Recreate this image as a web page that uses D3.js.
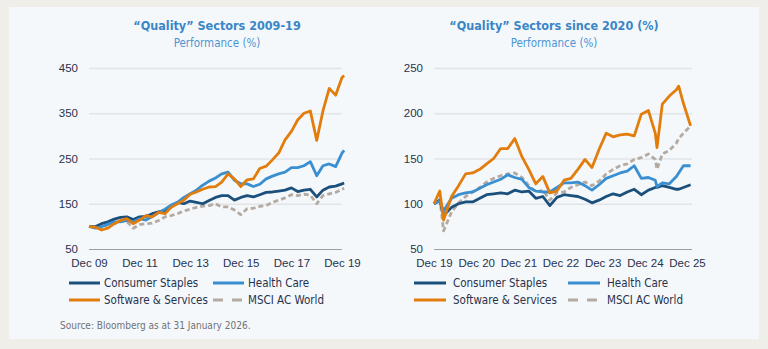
<!DOCTYPE html>
<html>

<head>
    <title>Quality Sectors</title>
    <script src="https://d3js.org/d3.v7.min.js"></script>
    <style>
        body {
            margin: 0;
            background: #efeee9;
        }

        svg {
            display: block;
            font-family: "DejaVu Sans Condensed", "DejaVu Sans", sans-serif;
            font-stretch: condensed;
        }

        .grid line {
            stroke: #e1e4e8;
            stroke-width: 1.5px;
        }

        .tick text {
            fill: #27324d;
            font-size: 11.5px;
        }

        .series {
            fill: none;
            stroke-width: 2.8px;
            stroke-linejoin: round;
        }
    </style>
</head>

<body>
    <div id="chart"></div>
    <script>
        // left panel: 2009-19, quarterly readings
        const leftDates = [
            "2009-12-31", "2010-03-31", "2010-06-30", "2010-09-30", "2010-12-31",
            "2011-03-31", "2011-06-30", "2011-09-30", "2011-12-31",
            "2012-03-31", "2012-06-30", "2012-09-30", "2012-12-31",
            "2013-03-31", "2013-06-30", "2013-09-30", "2013-12-31",
            "2014-03-31", "2014-06-30", "2014-09-30", "2014-12-31",
            "2015-03-31", "2015-06-30", "2015-09-30", "2015-12-31",
            "2016-03-31", "2016-06-30", "2016-09-30", "2016-12-31",
            "2017-03-31", "2017-06-30", "2017-09-30", "2017-12-31",
            "2018-03-31", "2018-06-30", "2018-09-30", "2018-12-31",
            "2019-03-31", "2019-06-30", "2019-09-30", "2019-12-31", "2020-01-31"
        ];
        const leftStaples = [100, 99, 106, 110, 116, 120, 121, 115, 121, 122, 128, 132, 135, 143, 153, 150, 156, 153, 150, 157, 164,
            168, 168, 158, 164, 168, 165, 170, 175, 176, 178, 180, 185, 177, 180, 182, 165, 180, 187, 189, 194, 196];
        const leftHealth = [100, 96, 99, 105, 110, 110, 113, 110, 117, 114, 122, 130, 138, 147, 153, 164, 172, 180, 191, 200, 207,
            216, 220, 202, 194, 194, 188, 193, 205, 211, 216, 220, 230, 230, 234, 243, 212, 234, 238, 232, 262, 268];
        const leftSoftware = [100, 98, 92, 96, 106, 113, 117, 106, 114, 124, 121, 131, 128, 142, 150, 158, 171, 176, 182, 187, 188,
            198, 216, 205, 188, 203, 205, 228, 233, 247, 262, 291, 310, 335, 350, 355, 290, 355, 405, 390, 429, 433];
        const leftMsci = [100, 99, 96, 104, 106, 112, 111, 96, 104, 106, 107, 113, 121, 124, 128, 134, 138, 142, 145, 146, 150,
            143, 143, 136, 126, 139, 140, 144, 146, 153, 158, 163, 170, 168, 171, 169, 150, 168, 172, 175, 182, 184];
        const leftYTicks = [50, 150, 250, 350, 450];
        const leftXTicks = ["2009-12-31", "2011-12-31", "2013-12-31", "2015-12-31", "2017-12-31", "2019-12-31"];

        // right panel: since 2020, roughly bimonthly readings
        const rightDates = [
            "2019-12-31", "2020-02-19", "2020-03-23", "2020-05-31", "2020-07-31", "2020-09-30", "2020-11-30",
            "2021-01-31", "2021-03-31", "2021-05-31", "2021-07-31", "2021-09-30", "2021-11-30",
            "2022-01-31", "2022-03-31", "2022-05-31", "2022-07-31", "2022-09-30", "2022-11-30",
            "2023-01-31", "2023-03-31", "2023-05-31", "2023-07-31", "2023-09-30", "2023-11-30",
            "2024-01-31", "2024-03-31", "2024-05-31", "2024-07-31", "2024-09-30", "2024-11-30",
            "2025-01-31", "2025-03-31", "2025-04-15", "2025-05-31", "2025-07-31", "2025-09-30", "2025-10-20",
            "2025-11-30", "2026-01-31"
        ];
        const rightStaples = [100, 104, 87, 96, 100, 102, 102, 106, 110, 111, 112, 111, 115, 113, 114, 106, 108, 98, 107,
            110, 109, 108, 105, 101, 104, 108, 111, 109, 113, 116, 110, 115, 118, 118, 120, 118, 116, 116, 118, 121];
        const rightHealth = [100, 103, 92, 106, 110, 112, 113, 117, 121, 124, 127, 132, 129, 127, 118, 114, 113, 113, 118,
            123, 123, 124, 120, 115, 121, 128, 131, 134, 136, 142, 128, 129, 126, 119, 123, 122, 130, 134, 142, 142];
        const rightSoftware = [100, 114, 82, 108, 120, 133, 134, 138, 144, 150, 161, 161, 172, 152, 138, 122, 130, 112, 114,
            126, 128, 138, 149, 140, 160, 178, 174, 176, 177, 175, 199, 203, 178, 162, 210, 219, 226, 230, 211, 186];
        const rightMsci = [100, 106, 70, 91, 101, 108, 113, 118, 124, 128, 131, 133, 134, 129, 120, 113, 115, 104, 112,
            113, 118, 121, 124, 120, 125, 133, 138, 142, 144, 149, 151, 155, 149, 138, 155, 159, 167, 172, 178, 186];
        const rightYTicks = [50, 100, 150, 200, 250];
        const rightXTicks = ["2019-12-31", "2020-12-31", "2021-12-31", "2022-12-31", "2023-12-31", "2024-12-31", "2025-12-31"];

        const seriesNames = ["Consumer Staples", "Health Care", "Software & Services", "MSCI AC World"];
        const seriesColors = ["#1b4f7c", "#3a8fd1", "#e27d0c", "#b3aaa1"];

        const parseDate = d3.timeParse("%Y-%m-%d");

        const svg = d3.select("#chart")
            .append("svg")
            .attr("width", 768)
            .attr("height", 349);

        svg.append("rect")
            .attr("width", 768).attr("height", 349)
            .attr("fill", "#efeee9");
        svg.append("rect")
            .attr("x", 9).attr("y", 7)
            .attr("width", 750).attr("height", 332)
            .attr("fill", "#f5f8fb");

        function drawPanel(p) {
            const dates = p.dates.map(parseDate);
            const x = d3.scaleTime()
                .domain([parseDate(p.xTicks[0]), parseDate(p.xTicks[p.xTicks.length - 1])])
                .range([p.left, p.right]);
            const y = d3.scaleLinear()
                .domain([p.yTicks[0], p.yTicks[p.yTicks.length - 1]])
                .range([249, 68]);

            const g = svg.append("g");

            // titles
            g.append("text")
                .attr("x", p.titleX).attr("y", 30)
                .attr("text-anchor", "middle")
                .attr("fill", "#3a86c6")
                .style("font-size", "12.5px")
                .style("font-weight", "bold")
                .text(p.title);
            g.append("text")
                .attr("x", p.titleX).attr("y", 47)
                .attr("text-anchor", "middle")
                .attr("fill", "#4d95d3")
                .style("font-size", "11.5px")
                .text("Performance (%)");

            // y grid + labels
            const yAxis = g.append("g")
                .attr("class", "grid")
                .attr("transform", `translate(${p.left},0)`)
                .call(d3.axisLeft(y).tickValues(p.yTicks)
                    .tickSize(-(p.gridRight - p.left)).tickPadding(11));
            yAxis.select(".domain").remove();
            yAxis.selectAll(".tick line")
                .filter(d => d === p.yTicks[0])
                .style("stroke", "#9b9ea3")
                .style("stroke-width", "1px");

            // x labels
            const xAxis = g.append("g")
                .attr("transform", "translate(0,253)")
                .call(d3.axisBottom(x).tickValues(p.xTicks.map(parseDate))
                    .tickSize(0).tickPadding(6).tickFormat(d3.timeFormat("Dec %y")));
            xAxis.select(".domain").remove();

            const line = d3.line()
                .x((d, i) => x(dates[i]))
                .y(d => y(d));

            // draw MSCI first so the solid lines sit on top
            [3, 0, 1, 2].forEach(k => {
                g.append("path")
                    .datum(p.series[k])
                    .attr("class", "series")
                    .attr("stroke", seriesColors[k])
                    .attr("stroke-dasharray", k === 3 ? "5,3" : null)
                    .attr("d", line);
            });

            // legend
            const legend = g.append("g");
            seriesNames.forEach((name, k) => {
                const col = k % 2, row = Math.floor(k / 2);
                const lx = p.legendX[col], ly = 283 + row * 17;
                legend.append("line")
                    .attr("x1", lx).attr("x2", lx + p.legendLen)
                    .attr("y1", ly).attr("y2", ly)
                    .attr("stroke", seriesColors[k])
                    .attr("stroke-width", 3)
                    .attr("stroke-dasharray", k === 3 ? "10,9" : null);
                legend.append("text")
                    .attr("x", lx + p.legendLen + p.legendGap).attr("y", ly + 4)
                    .attr("fill", "#27324d")
                    .style("font-size", "11.5px")
                    .text(name);
            });
        }

        drawPanel({
            title: "\u201cQuality\u201d Sectors 2009-19",
            titleX: 217,
            dates: leftDates,
            series: [leftStaples, leftHealth, leftSoftware, leftMsci],
            yTicks: leftYTicks,
            xTicks: leftXTicks,
            left: 89, right: 342, gridRight: 342,
            legendX: [69, 213], legendLen: 31, legendGap: 4
        });

        drawPanel({
            title: "\u201cQuality\u201d Sectors since 2020 (%)",
            titleX: 554,
            dates: rightDates,
            series: [rightStaples, rightHealth, rightSoftware, rightMsci],
            yTicks: rightYTicks,
            xTicks: rightXTicks,
            left: 434, right: 687, gridRight: 692,
            legendX: [414, 568], legendLen: 32, legendGap: 7
        });

        svg.append("text")
            .attr("x", 60).attr("y", 329)
            .attr("fill", "#707276")
            .style("font-size", "10px")
            .text("Source: Bloomberg as at 31 January 2026.");
    </script>

</body>

</html>
